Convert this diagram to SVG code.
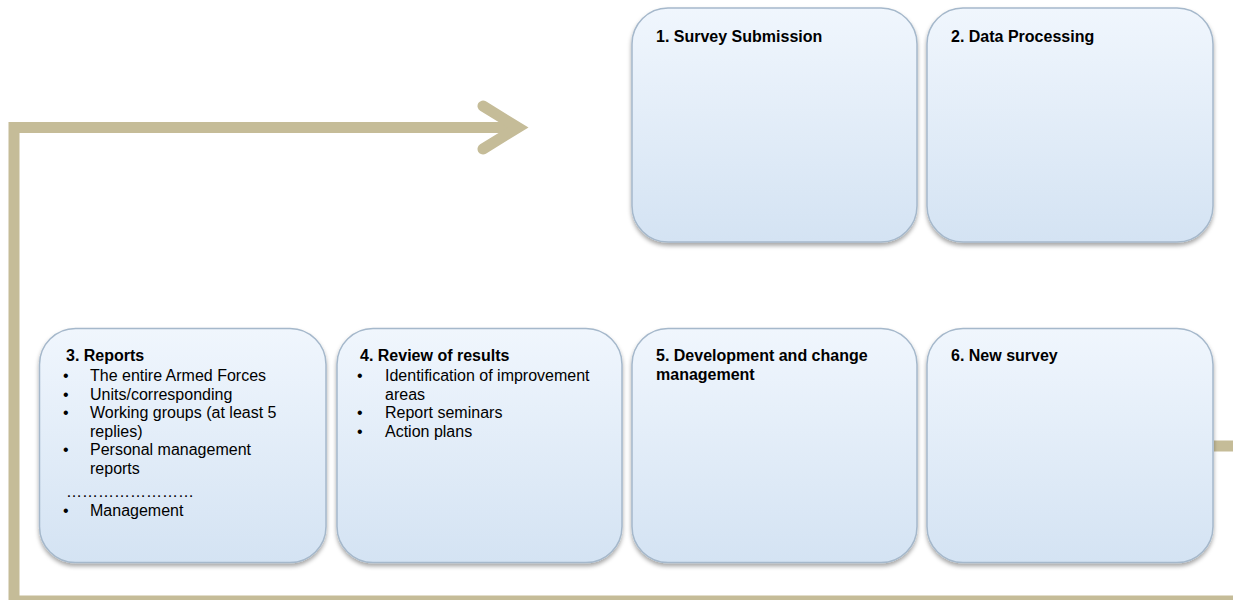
<svg xmlns="http://www.w3.org/2000/svg" width="1233" height="600" viewBox="0 0 1233 600">
  <defs>
    <linearGradient id="boxFill" x1="0" y1="0" x2="0" y2="1">
      <stop offset="0" stop-color="#f0f6fd"/>
      <stop offset="1" stop-color="#d4e3f3"/>
    </linearGradient>
    <filter id="boxShadow" x="-10%" y="-10%" width="120%" height="125%">
      <feDropShadow dx="0" dy="3" stdDeviation="2" flood-color="#000" flood-opacity="0.35"/>
    </filter>
    <style>
      .box { fill: url(#boxFill); stroke: #a5b8cb; stroke-width: 1.5; filter: url(#boxShadow); }
      .title { font-family: "Liberation Sans", Arial, sans-serif; font-size: 16px; font-weight: bold; fill: #000; }
      .item { font-family: "Liberation Sans", Arial, sans-serif; font-size: 16px; fill: #000; }
      .flow { fill: none; stroke: #c5bc98; stroke-width: 11; }
      .head { fill: none; stroke: #c5bc98; stroke-width: 11; stroke-linecap: round; stroke-linejoin: miter; }
    </style>
  </defs>

  <rect width="1233" height="600" fill="#ffffff"/>

  <!-- Feedback loop from step 6 back round to step 1 -->
  <g id="connectors">
    <path class="flow" d="M1214 446 H1245 V601 H14 V127.5 H516"/>
    <polyline class="head" points="483,106 518,127.5 483,149"/>
  </g>

  <g id="step1">
    <rect class="box" x="632" y="8" width="285" height="234" rx="36" ry="36"/>
    <text class="title" x="656" y="42">1. Survey Submission</text>
  </g>

  <g id="step2">
    <rect class="box" x="927" y="8" width="286" height="234" rx="36" ry="36"/>
    <text class="title" x="951" y="42">2. Data Processing</text>
  </g>

  <g id="step3">
    <rect class="box" x="39.5" y="328.5" width="286.5" height="234" rx="36" ry="36"/>
    <text class="title" x="66" y="361">3. Reports</text>
    <text class="item" x="63" y="381">•</text>
    <text class="item" x="90" y="381">The entire Armed Forces</text>
    <text class="item" x="63" y="399.5">•</text>
    <text class="item" x="90" y="399.5">Units/corresponding</text>
    <text class="item" x="63" y="418">•</text>
    <text class="item" x="90" y="418">Working groups (at least 5</text>
    <text class="item" x="90" y="436.5">replies)</text>
    <text class="item" x="63" y="455">•</text>
    <text class="item" x="90" y="455">Personal management</text>
    <text class="item" x="90" y="473.5">reports</text>
    <text class="item" x="66" y="497">……………………</text>
    <text class="item" x="63" y="516">•</text>
    <text class="item" x="90" y="516">Management</text>
  </g>

  <g id="step4">
    <rect class="box" x="337" y="328.5" width="285" height="234" rx="36" ry="36"/>
    <text class="title" x="360" y="361">4. Review of results</text>
    <text class="item" x="357" y="381">•</text>
    <text class="item" x="385" y="381">Identification of improvement</text>
    <text class="item" x="385" y="399.5">areas</text>
    <text class="item" x="357" y="418">•</text>
    <text class="item" x="385" y="418">Report seminars</text>
    <text class="item" x="357" y="436.5">•</text>
    <text class="item" x="385" y="436.5">Action plans</text>
  </g>

  <g id="step5">
    <rect class="box" x="632" y="328.5" width="285" height="234" rx="36" ry="36"/>
    <text class="title" x="656" y="361">5. Development and change</text>
    <text class="title" x="656" y="380">management</text>
  </g>

  <g id="step6">
    <rect class="box" x="927" y="328.5" width="286" height="234" rx="36" ry="36"/>
    <text class="title" x="951" y="361">6. New survey</text>
  </g>
</svg>
